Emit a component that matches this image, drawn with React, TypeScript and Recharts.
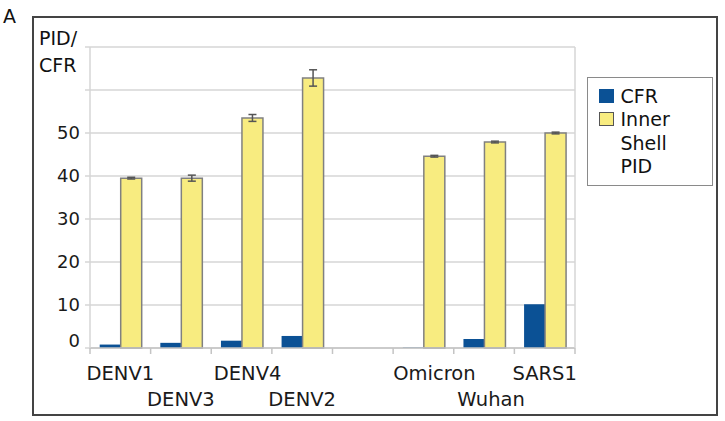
import React from 'react';
import { BarChart, Bar, XAxis, YAxis, CartesianGrid, ErrorBar, Legend } from 'recharts';

// Virus groups along the x axis (an empty slot separates dengue from coronaviruses)
const viruses = ['DENV1', 'DENV3', 'DENV4', 'DENV2', '', 'Omicron', 'Wuhan', 'SARS1'];
// Case fatality rate (%)
const cfrValues = [0.8, 1.2, 1.7, 2.8, null, 0.1, 2.1, 10.2];
// Inner shell percentage of intrinsic disorder
const innerShellPid = [39.5, 39.5, 53.5, 62.8, null, 44.6, 47.9, 50.0];
const innerShellPidErr = [0.2, 0.7, 0.8, 1.9, null, 0.2, 0.2, 0.2];

const yTicks = [0, 10, 20, 30, 40, 50, 60, 70];
const yLabelled = [0, 10, 20, 30, 40, 50];

const BLUE = '#0b5195';
const YELLOW = '#f8ec80';
const GRID = '#d6d6d6';
const FONT = '"DejaVu Sans", Verdana, sans-serif';

const data = viruses.map((name, i) => ({
  name,
  cfr: cfrValues[i],
  pid: innerShellPid[i],
  pidErr: innerShellPidErr[i],
}));

const W = 725;
const H = 421;
const MARGIN = { top: 47, right: 149, bottom: 13, left: 40 };
const Y_AXIS_W = 50;
const PLOT_W = W - MARGIN.left - Y_AXIS_W - MARGIN.right - 1;
const BAND = PLOT_W / viruses.length;

// small horizontal nudges for a few category labels
const labelNudge: Record<string, number> = { DENV4: 6, Omicron: 11, Wuhan: 7 };

const XTick = (props: any) => {
  const { x, y, payload, index } = props;
  const label: string = payload.value;
  const shown = viruses.slice(0, index).filter((v) => v !== '').length;
  const lower = shown % 2 === 1;
  const left = x - BAND / 2;
  const isLast = index === viruses.length - 1;
  return (
    <g>
      <line x1={left} x2={left} y1={y} y2={y + 6} stroke="#c4c4c4" strokeWidth={1.5} />
      {isLast && <line x1={left + BAND} x2={left + BAND} y1={y} y2={y + 6} stroke="#c4c4c4" strokeWidth={1.5} />}
      {label !== '' && (
        <text
          x={x + (labelNudge[label] || 0)}
          y={y + (lower ? 58 : 32)}
          textAnchor="middle"
          fontFamily={FONT}
          fontSize={19.5}
          fill="#1a1a1a"
        >
          {label}
        </text>
      )}
    </g>
  );
};

const YTick = (props: any) => {
  const { x, y, payload } = props;
  if (!yLabelled.includes(payload.value)) return null;
  return (
    <text
      x={x}
      y={y}
      dy={payload.value === 0 ? -1 : 6}
      textAnchor="end"
      fontFamily={FONT}
      fontSize={18}
      fill="#1a1a1a"
    >
      {payload.value}
    </text>
  );
};

const Swatch = ({ color, border }: { color: string; border?: string }) => (
  <span
    style={{
      display: 'inline-block',
      width: 15,
      height: 14,
      marginTop: 4,
      marginRight: 7,
      flex: '0 0 auto',
      boxSizing: 'border-box',
      background: color,
      border: border ? `1.2px solid ${border}` : 'none',
    }}
  />
);

const LegendBox = () => (
  <div
    style={{
      width: 126,
      height: 109,
      boxSizing: 'border-box',
      border: '1.5px solid #8a8a8a',
      background: '#fff',
      padding: '6.5px 0 0 10.5px',
      fontFamily: FONT,
      fontSize: 19,
      lineHeight: '23.5px',
      color: '#111',
      textAlign: 'left',
    }}
  >
    <div style={{ display: 'flex', alignItems: 'flex-start' }}>
      <Swatch color={BLUE} />
      <span>CFR</span>
    </div>
    <div style={{ display: 'flex', alignItems: 'flex-start' }}>
      <Swatch color={YELLOW} border="#555" />
      <span style={{ width: 80 }}>Inner Shell PID</span>
    </div>
  </div>
);

export default function App() {
  return (
    <div style={{ position: 'absolute', left: 0, top: 0, width: W, height: H, background: '#fff' }}>
      <svg width={W} height={H} style={{ position: 'absolute', left: 0, top: 0 }}>
        <rect x={33} y={17} width={684} height={398} fill="none" stroke="#444" strokeWidth={2} />
        <text x={3} y={23} fontFamily={FONT} fontSize={19} fill="#111">A</text>
        <text x={39} y={45} fontFamily={FONT} fontSize={19} fill="#111">PID/</text>
        <text x={39} y={72} fontFamily={FONT} fontSize={19} fill="#111">CFR</text>
      </svg>
      <div style={{ position: 'absolute', left: 0, top: 0 }}>
        <BarChart
          width={W}
          height={H}
          data={data}
          margin={MARGIN}
          barCategoryGap="16%"
          barGap={0}
        >
          <CartesianGrid vertical={false} stroke={GRID} strokeWidth={1.5} />
          <XAxis
            dataKey="name"
            height={60}
            interval={0}
            tickLine={false}
            tickSize={0}
            tickMargin={0}
            axisLine={{ stroke: '#c4c4c4', strokeWidth: 1.5 }}
            tick={<XTick />}
          />
          <YAxis
            width={Y_AXIS_W}
            domain={[0, 70]}
            ticks={yTicks}
            interval={0}
            tickSize={5}
            tickMargin={5}
            tickLine={{ stroke: GRID, strokeWidth: 1.5 }}
            axisLine={{ stroke: GRID, strokeWidth: 1.5 }}
            tick={<YTick />}
          />
          <YAxis
            yAxisId="frame"
            orientation="right"
            width={1}
            domain={[0, 70]}
            tick={false}
            tickLine={false}
            axisLine={{ stroke: GRID, strokeWidth: 1.5 }}
          />
          <Legend
            layout="vertical"
            align="center"
            verticalAlign="middle"
            content={<LegendBox />}
            wrapperStyle={{ left: 587, top: 77, width: 126, height: 109 }}
          />
          <Bar dataKey="cfr" name="CFR" fill={BLUE} isAnimationActive={false} />
          <Bar
            dataKey="pid"
            name="Inner Shell PID"
            fill={YELLOW}
            stroke="#808080"
            strokeWidth={1.5}
            isAnimationActive={false}
          >
            <ErrorBar dataKey="pidErr" width={4} stroke="#555" strokeWidth={1.5} direction="y" />
          </Bar>
        </BarChart>
      </div>
    </div>
  );
}
